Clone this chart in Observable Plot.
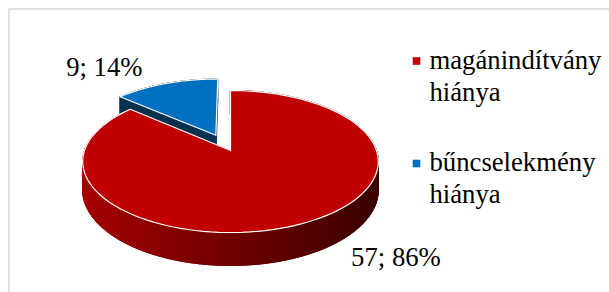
<!DOCTYPE html>
<html><head><meta charset="utf-8">
<script src="https://cdn.jsdelivr.net/npm/d3@7"></script>
<script src="https://cdn.jsdelivr.net/npm/@observablehq/plot@0.6"></script>
<style>
html,body{margin:0;padding:0;background:#fff;overflow:hidden}
#chart svg{display:block}
</style>
</head><body><div id="chart"></div>
<script>
// ---- data ----
const categories = ["magánindítvány\nhiánya", "bűncselekmény\nhiánya"];
const values = [57, 9];
const colors = ["#c00000", "#0070c0"];
const explodes = [0, 0.25];

// ---- layout / style ----
const W = 609, H = 292;
const cx = 230, cy = 150, rx = 146, ry = 69.3, k = 0.155, depth = 27.9;
const wallColors = [["#a60000", "#3a0000"], ["#0a2e4d", "#0a2e4d"]];
const faceColors = [["#7a0000", "#7a0000"], ["#08304f", "#0b3a64"]];
const labelDx = [50, -23.5], labelDy = [10, -8], labelAnchor = ["start", "end"];
const legendX = 416, legendTextX = 429, legendY0 = 60.5, legendGap = 102.5;
const fontSize = 26.7;

const total = d3.sum(values);
const pie = d3.pie().sort(null).value(d => d)(values);

function proj(sx, sz, h) {
  const w = 1 + k * sz;
  return [cx + rx * sx / w, cy + (-ry * sz + depth * h) / w];
}

const layers = [];
const labels = [];
let pid = 0;
const order = [1, 0]; // back slice first
for (const i of order) {
  const a = pie[i];
  const s = a.startAngle, e = a.endAngle, mid = (s + e) / 2;
  const ox = Math.sin(mid) * explodes[i], oz = Math.cos(mid) * explodes[i];
  const P = (th, r, h) => proj(ox + r * Math.sin(th), oz + r * Math.cos(th), h);
  const under = [];
  const n = Math.max(4, Math.ceil((e - s) / (Math.PI / 180)));
  const step = (e - s) / n;
  const quads = [];
  for (let j = 0; j < n; j++) {
    const t1 = s + step * j, t2 = s + step * (j + 1);
    const a1 = Math.max(s, t1 - step * 0.6), a2 = Math.min(e, t2 + step * 0.6);
    const pts = [P(a1, 1, 0), P(a2, 1, 0), P(a2, 1, 1), P(a1, 1, 1)];
    const zc = oz + Math.cos((t1 + t2) / 2);
    const pm = P((t1 + t2) / 2, 1, 0);
    const tt = Math.max(0, Math.min(1, (pm[0] - (cx - rx)) / (2 * rx)));
    const col = d3.interpolateRgb(wallColors[i][0], wallColors[i][1])(tt);
    quads.push({zc, pts, col});
  }
  quads.sort((u, v) => v.zc - u.zc);
  for (const q of quads) { const id = pid++; q.pts.forEach(p => under.push({id, x: p[0], y: p[1], fill: q.col})); }
  [[s, 0], [e, 1]].forEach(([th, fi]) => {
    const id = pid++;
    [P(th, 0, 0), P(th, 1, 0), P(th, 1, 1), P(th, 0, 1)].forEach(p => under.push({id, x: p[0], y: p[1], fill: faceColors[i][fi]}));
  });
  layers.push({polys: under, stroke: "fill", strokeWidth: 0.8});
  const top = [];
  const id = pid++;
  const c0 = P(0, 0, 0);
  top.push({id, x: c0[0], y: c0[1], fill: colors[i]});
  for (let j = 0; j <= 120; j++) {
    const th = s + (e - s) * j / 120;
    const p = P(th, 1, 0);
    top.push({id, x: p[0], y: p[1], fill: colors[i]});
  }
  layers.push({polys: top, stroke: "white", strokeWidth: 1.2});
  const front = Math.cos(mid) < 0;
  const lp = P(mid, 1, front ? 1 : 0);
  labels.push({i, x: lp[0] + labelDx[i], y: lp[1] + labelDy[i],
    text: `${values[i]}; ${Math.round(values[i] / total * 100)}%`});
}

const legendRows = categories.map((c, i) => ({c, color: colors[i], y: legendY0 + i * legendGap}));

const marks = [
  Plot.frame({stroke: "#d9d9d9", strokeWidth: 1.6, insetLeft: 8.5, insetTop: 8.5, insetRight: -6, insetBottom: -6})
];
for (const L of layers) {
  marks.push(Plot.line(L.polys, {
    x: "x", y: "y", z: "id", fill: "fill",
    stroke: L.stroke === "fill" ? "fill" : L.stroke,
    strokeWidth: L.strokeWidth, curve: "linear-closed", strokeLinejoin: "round"
  }));
}
marks.push(Plot.text(labels.filter(d => labelAnchor[d.i] === "start"), {x: "x", y: "y", text: "text", textAnchor: "start", lineAnchor: "bottom", fontSize, fill: "black"}));
marks.push(Plot.text(labels.filter(d => labelAnchor[d.i] === "end"), {x: "x", y: "y", text: "text", textAnchor: "end", lineAnchor: "bottom", fontSize, fill: "black"}));
marks.push(Plot.dot(legendRows, {x: () => legendX, y: "y", fill: "color", stroke: null, symbol: "square", r: 4.3}));
marks.push(Plot.text(legendRows, {x: () => legendTextX, y: d => d.y - 14.7, text: "c", textAnchor: "start", lineAnchor: "top", lineHeight: 1.19, fontSize, fill: "black"}));

const chart = Plot.plot({
  width: W, height: H, margin: 0,
  x: {domain: [0, W], range: [0, W], axis: null},
  y: {domain: [0, H], range: [0, H], axis: null},
  color: {type: "identity"},
  style: {fontFamily: "'Liberation Serif', 'Times New Roman', serif", background: "white", overflow: "hidden"},
  marks
});
document.getElementById("chart").append(chart);
</script>
</body></html>
